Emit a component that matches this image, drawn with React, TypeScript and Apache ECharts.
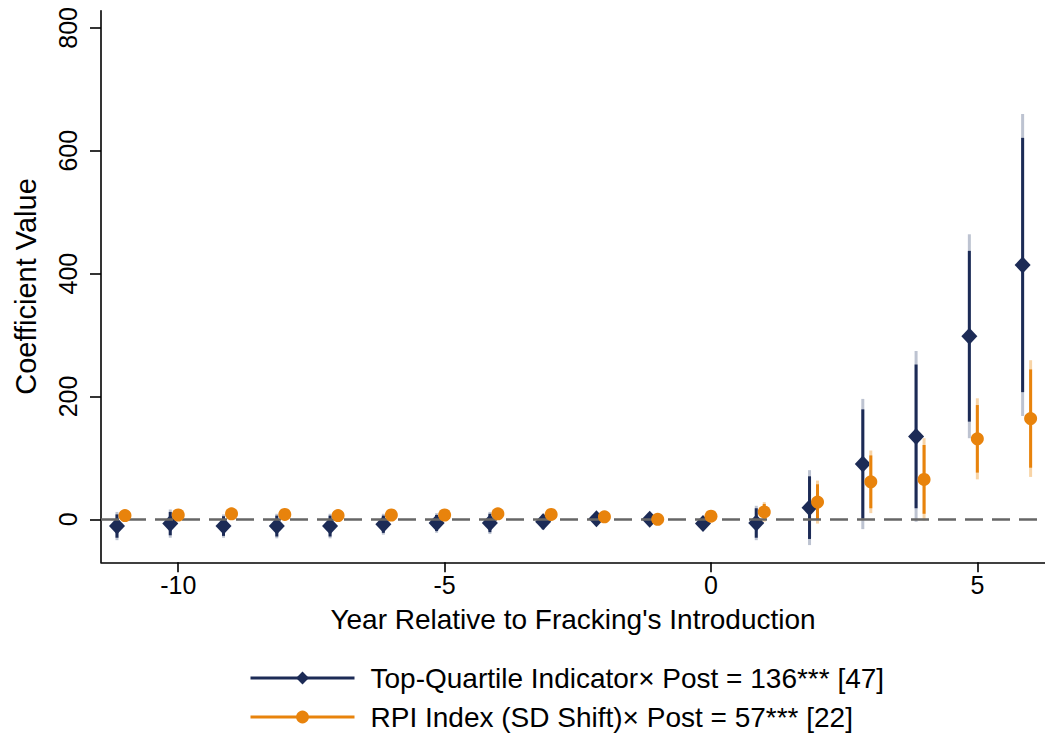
import { useEffect, useRef } from "react";
import * as echarts from "echarts";

// Event-time (years relative to fracking's introduction)
const years = [-11, -10, -9, -8, -7, -6, -5, -4, -3, -2, -1, 0, 1, 2, 3, 4, 5, 6];
const blueShift = -0.15; // small horizontal dodge of the first series

// Top-Quartile Indicator × Post
const blueCoef = [-11, -7, -11, -11, -11, -8, -6, -6, -4, 1, 0, -7, -6, 19, 90, 135, 298, 414];
const blueLo95 = [-34, -30, -30, -31, -31, -25, -22, -24, -17, -2, -2, -11, -34, -42, -16, -4, 132, 168];
const blueHi95 = [12, 16, 8, 9, 9, 9, 10, 12, 9, 4, 2, -3, 22, 80, 196, 274, 464, 660];
const blueLo90 = [-30, -26, -27, -28, -28, -22, -19, -21, -15, -1, -1.5, -10, -30, -32, 1, 18, 159, 207];
const blueHi90 = [8, 12, 5, 6, 6, 6, 7, 9, 7, 3, 1.5, -4, 18, 70, 179, 252, 437, 621];

// RPI Index (SD Shift) × Post
const orangeCoef = [6, 7, 9, 8, 6, 7, 7, 9, 8, 4, 0, 5, 12, 28, 61, 65, 131, 164];
const orangeLo95 = [-3, -2, -1, -1, -3, -2, -2, 0, 0, 0, -3, 0, -4, -7, 10, -2, 65, 69];
const orangeHi95 = [15, 16, 19, 17, 15, 16, 16, 18, 16, 8, 3, 10, 28, 63, 112, 132, 197, 259];
const orangeLo90 = [-1, 0, 1, 1, -1, 0, 0, 2, 1, 1, -2, 1, -1, -1, 18, 9, 76, 84];
const orangeHi90 = [13, 14, 17, 15, 13, 14, 14, 16, 15, 7, 2, 9, 25, 57, 104, 121, 186, 244];

const xTicks = [-10, -5, 0, 5];
const yTicks = [0, 200, 400, 600, 800];
const legendNames = [
  "Top-Quartile Indicator× Post = 136*** [47]",
  "RPI Index (SD Shift)× Post = 57*** [22]",
];

const FONT = "'Liberation Sans', Arial, sans-serif";
const BLUE = "#1c2b56";
const BLUE_LIGHT = "#bdc3d1";
const ORANGE = "#e8830c";
const ORANGE_LIGHT = "#f8d4a6";

function ciSeries(name: string, xs: number[], lo: number[], hi: number[], color: string, z: number) {
  return {
    type: "custom",
    name,
    z,
    silent: true,
    clip: false,
    data: xs.map((x, i) => [x, lo[i], hi[i]]),
    encode: { x: 0, y: [1, 2] },
    renderItem: (_params: any, api: any) => {
      const p1 = api.coord([api.value(0), api.value(1)]);
      const p2 = api.coord([api.value(0), api.value(2)]);
      return {
        type: "line",
        shape: { x1: p1[0], y1: p1[1], x2: p2[0], y2: p2[1] },
        style: { stroke: color, lineWidth: 3 },
      };
    },
  };
}

function legendFor(name: string, top: number) {
  return {
    orient: "horizontal",
    left: 249,
    top,
    padding: 0,
    itemWidth: 104,
    itemHeight: 16,
    selectedMode: false,
    data: [name],
    lineStyle: { opacity: 1, width: 3 },
    textStyle: { fontSize: 28, color: "#000", fontFamily: FONT, lineHeight: 28, padding: [0, 0, 0, 11] },
  };
}

export default function App() {
  const ref = useRef<HTMLDivElement>(null);

  useEffect(() => {
    if (!ref.current) return;
    const chart = echarts.init(ref.current, null, { renderer: "svg" });
    const blueX = years.map((y) => y + blueShift);
    const orangeX = years.slice();

    const option: any = {
      animation: false,
      backgroundColor: "#ffffff",
      textStyle: { fontFamily: FONT },
      grid: {
        left: 101,
        right: 0,
        top: 10.7,
        bottom: 175.7,
        containLabel: false,
        outerBoundsMode: "none",
      },
      xAxis: {
        type: "value",
        min: -11.45,
        max: 6.27,
        name: "Year Relative to Fracking's Introduction",
        nameLocation: "middle",
        nameGap: 43,
        nameTextStyle: { fontSize: 28, color: "#000", fontFamily: FONT },
        axisLine: { show: true, onZero: false, lineStyle: { color: "#000", width: 1.6 } },
        axisTick: { show: true, length: 10, customValues: xTicks, lineStyle: { color: "#000", width: 1.6 } },
        axisLabel: { show: true, customValues: xTicks, margin: 10, fontSize: 25, color: "#000", fontFamily: FONT },
        splitLine: { show: false },
      },
      yAxis: {
        type: "value",
        min: -70,
        max: 828,
        name: "Coefficient Value",
        nameLocation: "middle",
        nameGap: 61,
        nameTextStyle: { fontSize: 29, color: "#000", fontFamily: FONT },
        axisLine: { show: true, onZero: false, lineStyle: { color: "#000", width: 1.6 } },
        axisTick: { show: true, length: 11, customValues: yTicks, lineStyle: { color: "#000", width: 1.6 } },
        axisLabel: { show: true, customValues: yTicks, rotate: 90, margin: 21, fontSize: 25, color: "#000", fontFamily: FONT },
        splitLine: { show: false },
      },
      legend: [legendFor(legendNames[0], 664), legendFor(legendNames[1], 703)],
      series: [
        {
          type: "line",
          name: "zero",
          data: [],
          z: 1,
          silent: true,
          markLine: {
            silent: true,
            symbol: ["none", "none"],
            label: { show: false },
            lineStyle: { color: "#666666", width: 2.5, type: [18, 9] },
            data: [{ yAxis: 0 }],
          },
        },
        ciSeries("blue95", blueX, blueLo95, blueHi95, BLUE_LIGHT, 2),
        ciSeries("blue90", blueX, blueLo90, blueHi90, BLUE, 2),
        {
          type: "line",
          name: legendNames[0],
          data: blueX.map((x, i) => [x, blueCoef[i]]),
          symbol: "diamond",
          symbolSize: [16, 17],
          showAllSymbol: true,
          lineStyle: { opacity: 0, width: 3, color: BLUE },
          itemStyle: { color: BLUE },
          z: 3,
        },
        ciSeries("orange95", orangeX, orangeLo95, orangeHi95, ORANGE_LIGHT, 4),
        ciSeries("orange90", orangeX, orangeLo90, orangeHi90, ORANGE, 4),
        {
          type: "line",
          name: legendNames[1],
          data: orangeX.map((x, i) => [x, orangeCoef[i]]),
          symbol: "circle",
          symbolSize: 13,
          showAllSymbol: true,
          lineStyle: { opacity: 0, width: 3, color: ORANGE },
          itemStyle: { color: ORANGE },
          z: 5,
        },
      ],
    };
    chart.setOption(option);
    return () => chart.dispose();
  }, []);

  return (
    <div
      ref={ref}
      style={{ position: "absolute", left: 0, top: 0, width: 1045, height: 738, background: "#fff" }}
    />
  );
}
